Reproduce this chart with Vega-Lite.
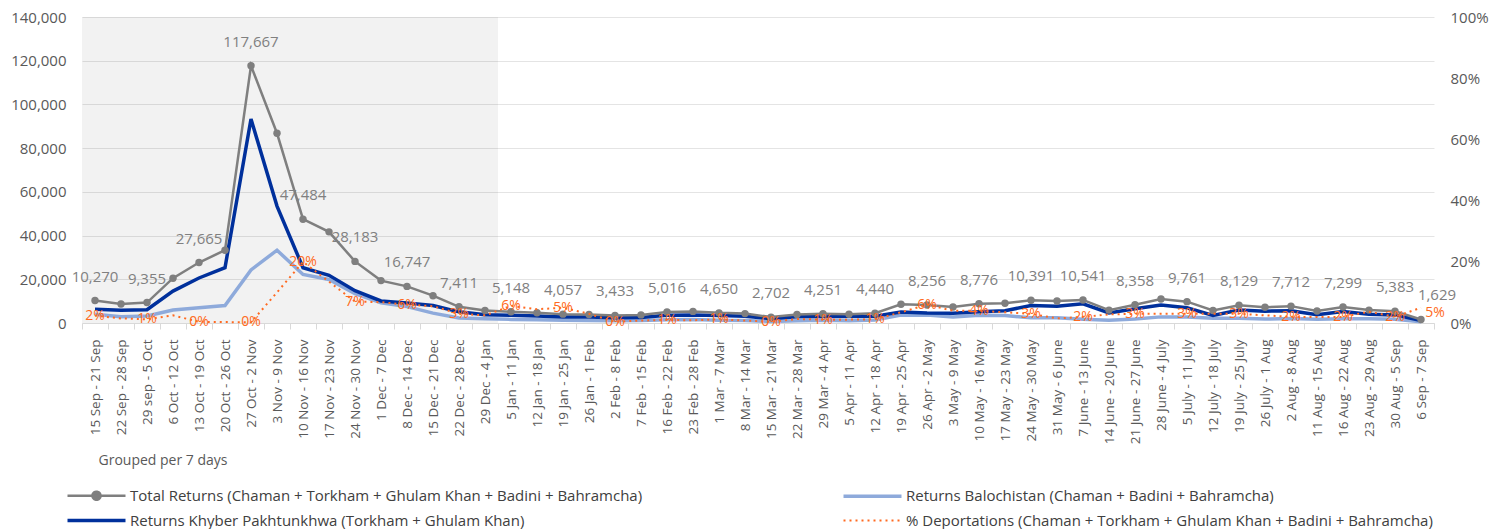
{
  "$schema": "https://vega.github.io/schema/vega-lite/v6.json",
  "width": 1352,
  "height": 306,
  "autosize": {"type": "none"},
  "padding": {"left": 82, "top": 17, "right": 74, "bottom": 206},
  "background": "white",
  "config": {
    "view": {"stroke": null},
    "font": "Open Sans",
    "axisY": {
      "labelFontSize": 15,
      "labelColor": "#595959",
      "labelPadding": 16,
      "domain": false,
      "ticks": false,
      "title": null
    },
    "legend": {
      "orient": "none",
      "direction": "horizontal",
      "legendX": 7,
      "legendY": 471,
      "columns": 2,
      "columnPadding": 193,
      "rowPadding": 8,
      "symbolType": "stroke",
      "symbolSize": 3364,
      "symbolStrokeWidth": 3,
      "labelFont": "Open Sans",
      "labelFontSize": 15,
      "labelColor": "#404040",
      "labelOffset": 26,
      "labelLimit": 800,
      "padding": 0,
      "title": null
    }
  },
  "data": {
    "values": [
      {"week": "15 Sep - 21 Sep", "year": 2023, "total": 10270, "kp": 6300, "bal": 3970, "pct": 0.024},
      {"week": "22 Sep - 28 Sep", "year": 2023, "total": 8700, "kp": 5800, "bal": 2900, "pct": 0.015},
      {"week": "29 sep - 5 Oct", "year": 2023, "total": 9355, "kp": 6100, "bal": 3250, "pct": 0.012},
      {"week": "6 Oct - 12 Oct", "year": 2023, "total": 20500, "kp": 14600, "bal": 5900, "pct": 0.025},
      {"week": "13 Oct - 19 Oct", "year": 2023, "total": 27665, "kp": 20600, "bal": 7000, "pct": 0.004},
      {"week": "20 Oct - 26 Oct", "year": 2023, "total": 33300, "kp": 25300, "bal": 8000, "pct": 0.003},
      {"week": "27 Oct - 2 Nov", "year": 2023, "total": 117667, "kp": 93300, "bal": 24300, "pct": 0.002},
      {"week": "3 Nov - 9 Nov", "year": 2023, "total": 86800, "kp": 53500, "bal": 33300, "pct": 0.10},
      {"week": "10 Nov - 16 Nov", "year": 2023, "total": 47484, "kp": 25300, "bal": 22200, "pct": 0.20},
      {"week": "17 Nov - 23 Nov", "year": 2023, "total": 41700, "kp": 21800, "bal": 19900, "pct": 0.135},
      {"week": "24 Nov - 30 Nov", "year": 2023, "total": 28183, "kp": 14800, "bal": 13400, "pct": 0.07},
      {"week": "1 Dec - 7 Dec", "year": 2023, "total": 19400, "kp": 10100, "bal": 9300, "pct": 0.068},
      {"week": "8 Dec - 14 Dec", "year": 2023, "total": 16747, "kp": 9200, "bal": 7500, "pct": 0.06},
      {"week": "15 Dec - 21 Dec", "year": 2023, "total": 12500, "kp": 8000, "bal": 4500, "pct": 0.055},
      {"week": "22 Dec - 28 Dec", "year": 2023, "total": 7411, "kp": 5100, "bal": 2300, "pct": 0.03},
      {"week": "29 Dec - 4 Jan", "year": 2023, "total": 5700, "kp": 3800, "bal": 1900, "pct": 0.025},
      {"week": "5 Jan - 11 Jan", "year": 2024, "total": 5148, "kp": 3500, "bal": 1650, "pct": 0.056},
      {"week": "12 Jan - 18 Jan", "year": 2024, "total": 4700, "kp": 3200, "bal": 1500, "pct": 0.045},
      {"week": "19 Jan - 25 Jan", "year": 2024, "total": 4057, "kp": 2800, "bal": 1250, "pct": 0.05},
      {"week": "26 Jan - 1 Feb", "year": 2024, "total": 3900, "kp": 2700, "bal": 1200, "pct": 0.03},
      {"week": "2 Feb - 8 Feb", "year": 2024, "total": 3433, "kp": 2400, "bal": 1030, "pct": 0.004},
      {"week": "7 Feb - 15 Feb", "year": 2024, "total": 3700, "kp": 2500, "bal": 1200, "pct": 0.008},
      {"week": "16 Feb - 22 Feb", "year": 2024, "total": 5016, "kp": 3500, "bal": 1500, "pct": 0.01},
      {"week": "23 Feb - 28 Feb", "year": 2024, "total": 5300, "kp": 3700, "bal": 1600, "pct": 0.009},
      {"week": "1 Mar - 7 Mar", "year": 2024, "total": 4650, "kp": 3400, "bal": 1250, "pct": 0.012},
      {"week": "8 Mar - 14 Mar", "year": 2024, "total": 4300, "kp": 3100, "bal": 1200, "pct": 0.008},
      {"week": "15 Mar - 21 Mar", "year": 2024, "total": 2702, "kp": 2000, "bal": 700, "pct": 0.004},
      {"week": "22 Mar - 28 Mar", "year": 2024, "total": 3900, "kp": 2900, "bal": 1000, "pct": 0.013},
      {"week": "29 Mar - 4 Apr", "year": 2024, "total": 4251, "kp": 3000, "bal": 1250, "pct": 0.011},
      {"week": "5 Apr - 11 Apr", "year": 2024, "total": 4000, "kp": 3000, "bal": 1000, "pct": 0.011},
      {"week": "12 Apr - 18 Apr", "year": 2024, "total": 4440, "kp": 3100, "bal": 1340, "pct": 0.012},
      {"week": "19 Apr - 25 Apr", "year": 2024, "total": 8600, "kp": 5000, "bal": 3600, "pct": 0.035},
      {"week": "26 Apr - 2 May", "year": 2024, "total": 8256, "kp": 4600, "bal": 3650, "pct": 0.06},
      {"week": "3 May - 9 May", "year": 2024, "total": 7300, "kp": 4500, "bal": 2800, "pct": 0.04},
      {"week": "10 May - 16 May", "year": 2024, "total": 8776, "kp": 5200, "bal": 3550, "pct": 0.04},
      {"week": "17 May - 23 May", "year": 2024, "total": 9000, "kp": 5600, "bal": 3400, "pct": 0.035},
      {"week": "24 May - 30 May", "year": 2024, "total": 10391, "kp": 8000, "bal": 2400, "pct": 0.03},
      {"week": "31 May - 6 June", "year": 2024, "total": 10100, "kp": 7700, "bal": 2400, "pct": 0.015},
      {"week": "7 June - 13 June", "year": 2024, "total": 10541, "kp": 8800, "bal": 1750, "pct": 0.02},
      {"week": "14 June - 20 June", "year": 2024, "total": 5900, "kp": 4600, "bal": 1300, "pct": 0.028},
      {"week": "21 June - 27 June", "year": 2024, "total": 8358, "kp": 6500, "bal": 1850, "pct": 0.03},
      {"week": "28 June - 4 July", "year": 2024, "total": 11000, "kp": 8200, "bal": 2800, "pct": 0.03},
      {"week": "5 July - 11 July", "year": 2024, "total": 9761, "kp": 7000, "bal": 2750, "pct": 0.03},
      {"week": "12 July - 18 July", "year": 2024, "total": 5700, "kp": 3500, "bal": 2200, "pct": 0.03},
      {"week": "19 July - 25 July", "year": 2024, "total": 8129, "kp": 5900, "bal": 2200, "pct": 0.03},
      {"week": "26 July - 1 Aug", "year": 2024, "total": 7200, "kp": 5400, "bal": 1800, "pct": 0.025},
      {"week": "2 Aug - 8 Aug", "year": 2024, "total": 7712, "kp": 5600, "bal": 2100, "pct": 0.02},
      {"week": "11 Aug - 15 Aug", "year": 2024, "total": 5500, "kp": 3800, "bal": 1700, "pct": 0.02},
      {"week": "16 Aug - 22 Aug", "year": 2024, "total": 7299, "kp": 5300, "bal": 2000, "pct": 0.02},
      {"week": "23 Aug - 29 Aug", "year": 2024, "total": 5900, "kp": 4000, "bal": 1900, "pct": 0.037},
      {"week": "30 Aug - 5 Sep", "year": 2024, "total": 5383, "kp": 3700, "bal": 1700, "pct": 0.02},
      {"week": "6 Sep - 7 Sep", "year": 2024, "total": 1629, "kp": 1100, "bal": 530, "pct": 0.05}
    ]
  },
  "encoding": {
    "x": {
      "field": "week",
      "type": "nominal",
      "sort": null,
      "scale": {"paddingInner": 0, "paddingOuter": 0},
      "axis": {
        "labelAngle": -90,
        "labelFontSize": 13.5,
        "labelColor": "#595959",
        "labelPadding": 10,
        "labelLimit": 300,
        "domainColor": "#d9d9d9",
        "tickColor": "#d9d9d9",
        "tickBand": "extent",
        "tickSize": 6,
        "title": "Grouped per 7 days",
        "titleFontSize": 14,
        "titleFontWeight": "normal",
        "titleColor": "#595959",
        "titleAnchor": "start",
        "titleAlign": "left",
        "titleBaseline": "middle",
        "titleX": 16,
        "titleY": 137
      }
    }
  },
  "layer": [
    {
      "layer": [
        {
          "transform": [{"filter": "datum.year === 2023"}],
          "mark": {"type": "bar", "fill": "#000000", "opacity": 0.05},
          "encoding": {
            "y": {"datum": 140000, "type": "quantitative", "title": null, "scale": {"domain": [0, 140000]},
              "axis": {"values": [0, 20000, 40000, 60000, 80000, 100000, 120000, 140000], "labelExpr": "format(datum.value, ',')", "grid": true, "gridColor": "#e4e4e4", "title": null}}
          }
        },
        {
          "mark": {"type": "line", "strokeWidth": 3.5},
          "encoding": {
            "y": {"field": "bal", "type": "quantitative", "title": null, "scale": {"domain": [0, 140000]},
              "axis": {"values": [0, 20000, 40000, 60000, 80000, 100000, 120000, 140000], "labelExpr": "format(datum.value, ',')", "grid": true, "gridColor": "#e4e4e4", "title": null}},
            "color": {
              "datum": "Returns Balochistan (Chaman + Badini + Bahramcha)",
              "scale": {
                "domain": [
                  "Total Returns (Chaman + Torkham + Ghulam Khan + Badini + Bahramcha)",
                  "Returns Balochistan (Chaman + Badini + Bahramcha)",
                  "Returns Khyber Pakhtunkhwa (Torkham + Ghulam Khan)",
                  "% Deportations (Chaman + Torkham + Ghulam Khan + Badini + Bahramcha)"
                ],
                "range": ["#7f7f7f", "#8eaadb", "#00309c", "#ff6a21"]
              },
              "legend": {
                "encode": {
                  "symbols": {
                    "update": {
                      "shape": {"signal": "datum.value === 'Total Returns (Chaman + Torkham + Ghulam Khan + Badini + Bahramcha)' ? 'M-1,0H1M-0.14,0A0.14,0.14,0,1,0,0.14,0A0.14,0.14,0,1,0,-0.14,0' : 'stroke'"},
                      "fill": {"signal": "datum.value === 'Total Returns (Chaman + Torkham + Ghulam Khan + Badini + Bahramcha)' ? '#7f7f7f' : 'transparent'"},
                      "strokeDash": {"signal": "datum.value === '% Deportations (Chaman + Torkham + Ghulam Khan + Badini + Bahramcha)' ? [2, 4] : [1, 0]"},
                      "strokeWidth": {"signal": "datum.value === '% Deportations (Chaman + Torkham + Ghulam Khan + Badini + Bahramcha)' ? 2 : (datum.value === 'Total Returns (Chaman + Torkham + Ghulam Khan + Badini + Bahramcha)' ? 2.5 : 3.5)"}
                    }
                  }
                }
              }
            }
          }
        },
        {
          "mark": {"type": "line", "strokeWidth": 3.5},
          "encoding": {
            "y": {"field": "kp", "type": "quantitative", "title": null, "scale": {"domain": [0, 140000]},
              "axis": {"values": [0, 20000, 40000, 60000, 80000, 100000, 120000, 140000], "labelExpr": "format(datum.value, ',')", "grid": true, "gridColor": "#e4e4e4", "title": null}},
            "color": {"datum": "Returns Khyber Pakhtunkhwa (Torkham + Ghulam Khan)"}
          }
        },
        {
          "mark": {"type": "line", "strokeWidth": 2.5, "point": {"filled": true, "size": 55, "color": "#7f7f7f"}},
          "encoding": {
            "y": {"field": "total", "type": "quantitative", "title": null, "scale": {"domain": [0, 140000]},
              "axis": {"values": [0, 20000, 40000, 60000, 80000, 100000, 120000, 140000], "labelExpr": "format(datum.value, ',')", "grid": true, "gridColor": "#e4e4e4", "title": null}},
            "color": {"datum": "Total Returns (Chaman + Torkham + Ghulam Khan + Badini + Bahramcha)"}
          }
        },
        {
          "transform": [
            {"window": [{"op": "row_number", "as": "rn"}]},
            {"filter": "datum.rn % 2 === 1"}
          ],
          "mark": {"type": "text", "fontSize": 15, "color": "#808080", "dy": -24, "baseline": "middle"},
          "encoding": {
            "y": {"field": "total", "type": "quantitative", "title": null, "scale": {"domain": [0, 140000]},
              "axis": {"values": [0, 20000, 40000, 60000, 80000, 100000, 120000, 140000], "labelExpr": "format(datum.value, ',')", "grid": true, "gridColor": "#e4e4e4", "title": null}},
            "text": {"field": "total", "type": "quantitative", "format": ","}
          }
        },
        {
          "transform": [
            {"window": [{"op": "row_number", "as": "rn"}]},
            {"filter": "datum.rn === 52"}
          ],
          "mark": {"type": "text", "fontSize": 15, "color": "#808080", "dy": -24, "dx": 16, "baseline": "middle"},
          "encoding": {
            "y": {"field": "total", "type": "quantitative", "title": null, "scale": {"domain": [0, 140000]},
              "axis": {"values": [0, 20000, 40000, 60000, 80000, 100000, 120000, 140000], "labelExpr": "format(datum.value, ',')", "grid": true, "gridColor": "#e4e4e4", "title": null}},
            "text": {"field": "total", "type": "quantitative", "format": ","}
          }
        }
      ]
    },
    {
      "layer": [
        {
          "mark": {"type": "line", "strokeWidth": 2, "strokeDash": [2, 4]},
          "encoding": {
            "y": {"field": "pct", "type": "quantitative", "title": null, "scale": {"domain": [0, 1]},
              "axis": {"orient": "right", "values": [0, 0.2, 0.4, 0.6, 0.8, 1], "format": ".0%", "grid": false, "title": null}},
            "color": {"datum": "% Deportations (Chaman + Torkham + Ghulam Khan + Badini + Bahramcha)"}
          }
        },
        {
          "transform": [
            {"window": [{"op": "row_number", "as": "rn"}]},
            {"filter": "datum.rn % 2 === 1"}
          ],
          "mark": {"type": "text", "fontSize": 14, "color": "#ff6a21", "baseline": "middle"},
          "encoding": {
            "y": {"field": "pct", "type": "quantitative", "title": null, "scale": {"domain": [0, 1]},
              "axis": {"orient": "right", "values": [0, 0.2, 0.4, 0.6, 0.8, 1], "format": ".0%", "grid": false, "title": null}},
            "text": {"field": "pct", "type": "quantitative", "format": ".0%"}
          }
        },
        {
          "transform": [
            {"window": [{"op": "row_number", "as": "rn"}]},
            {"filter": "datum.rn === 52"}
          ],
          "mark": {"type": "text", "fontSize": 14, "color": "#ff6a21", "baseline": "middle", "dx": 14, "dy": 5},
          "encoding": {
            "y": {"field": "pct", "type": "quantitative", "title": null, "scale": {"domain": [0, 1]},
              "axis": {"orient": "right", "values": [0, 0.2, 0.4, 0.6, 0.8, 1], "format": ".0%", "grid": false, "title": null}},
            "text": {"field": "pct", "type": "quantitative", "format": ".0%"}
          }
        }
      ]
    }
  ],
  "resolve": {"scale": {"y": "independent"}}
}
